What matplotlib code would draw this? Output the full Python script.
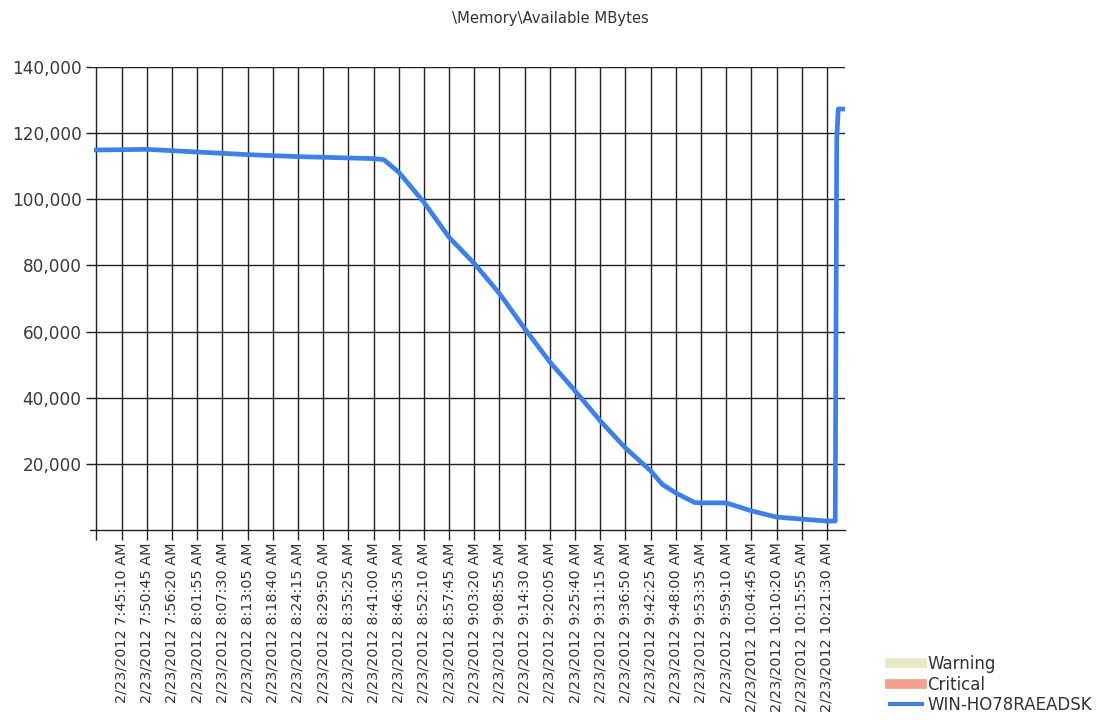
import pandas as pd
import matplotlib
matplotlib.use("Agg")
import matplotlib.pyplot as plt
from matplotlib.lines import Line2D

# Dane (czas, dostępna pamięć w MB)
czasy = ["7:39:35", "7:45:10", "7:50:45", "7:56:20", "8:01:55", "8:07:30",
         "8:13:05", "8:18:40", "8:24:15", "8:29:50", "8:35:25", "8:41:00",
         "8:43:15", "8:46:35", "8:52:10", "8:57:45", "9:03:20", "9:08:55",
         "9:14:30", "9:20:05", "9:25:40", "9:31:15", "9:36:50", "9:42:25",
         "9:45:00", "9:48:00", "9:52:10", "9:53:35", "9:59:10", "10:04:45",
         "10:10:20", "10:15:55", "10:21:30", "10:23:20", "10:23:40",
         "10:24:00", "10:25:00"]
wartosci = [114900, 115000, 115100, 114700, 114300, 113900,
            113500, 113200, 112900, 112700, 112500, 112300,
            112000, 108200, 99100, 88500, 80600, 71500,
            60900, 50800, 42100, 33000, 24800, 17900,
            13800, 11200, 8300, 8200, 8200, 5800,
            3900, 3300, 2700, 2700, 118000,
            127300, 127300]

# Etykiety osi x (co 5 min 35 s)
etykiety_x = ["7:39:35", "7:45:10", "7:50:45", "7:56:20", "8:01:55", "8:07:30",
              "8:13:05", "8:18:40", "8:24:15", "8:29:50", "8:35:25", "8:41:00",
              "8:46:35", "8:52:10", "8:57:45", "9:03:20", "9:08:55", "9:14:30",
              "9:20:05", "9:25:40", "9:31:15", "9:36:50", "9:42:25", "9:48:00",
              "9:53:35", "9:59:10", "10:04:45", "10:10:20", "10:15:55", "10:21:30"]
etykiety_y = [20000, 40000, 60000, 80000, 100000, 120000, 140000]

data = "2012-02-23 "
t = pd.to_datetime([data + c for c in czasy])
tx = pd.to_datetime([data + c for c in etykiety_x])

fig = plt.figure(figsize=(11.11, 7.2), dpi=100)
ax = fig.add_axes([90 / 1111, 190 / 720, (845 - 90) / 1111, (653 - 190) / 720])

niebieski = "#3f80e8"
ax.plot(t, wartosci, color=niebieski, lw=3.4, solid_joinstyle="round", zorder=3)

# zakresy osi
ax.set_xlim(pd.Timestamp(data + "7:38:10"), pd.Timestamp(data + "10:25:30"))
ax.set_ylim(0, 140000)

ax.set_xticks(tx)
ax.set_xticklabels([""] + ["2/23/2012 " + e + " AM" for e in etykiety_x[1:]],
                   rotation=90, fontsize=10.4, color="#333333")
ax.set_yticks(etykiety_y)
ax.set_yticklabels([f"{v:,}" for v in etykiety_y], fontsize=12.2, color="#3a3a3a")

ax.tick_params(axis="x", length=7, width=1.0, color="#222222", pad=2)
ax.tick_params(axis="y", length=3, width=1.0, color="#222222", pad=3)
ax.grid(True, color="#222222", lw=1.0)
ax.set_axisbelow(True)

for s in ["left", "right", "top"]:
    ax.spines[s].set_visible(False)
ax.spines["bottom"].set_color("#222222")
ax.spines["bottom"].set_linewidth(1.0)

fig.text(550 / 1111, 1 - 18 / 720, "\\Memory\\Available MBytes",
         ha="center", va="center", fontsize=10.6, color="#333333")

uchwyty = [Line2D([], [], color="#e9e8c6", lw=7),
           Line2D([], [], color="#f4a08e", lw=7),
           Line2D([], [], color=niebieski, lw=3)]
fig.legend(uchwyty, ["Warning", "Critical", "WIN-HO78RAEADSK"],
           loc="upper left", bbox_to_anchor=(875 / 1111, 1 - 640 / 720),
           frameon=False, fontsize=12, handlelength=1.9, handletextpad=0.35,
           labelspacing=0.15, labelcolor="#333333")

fig.savefig("out.png", dpi=100)
